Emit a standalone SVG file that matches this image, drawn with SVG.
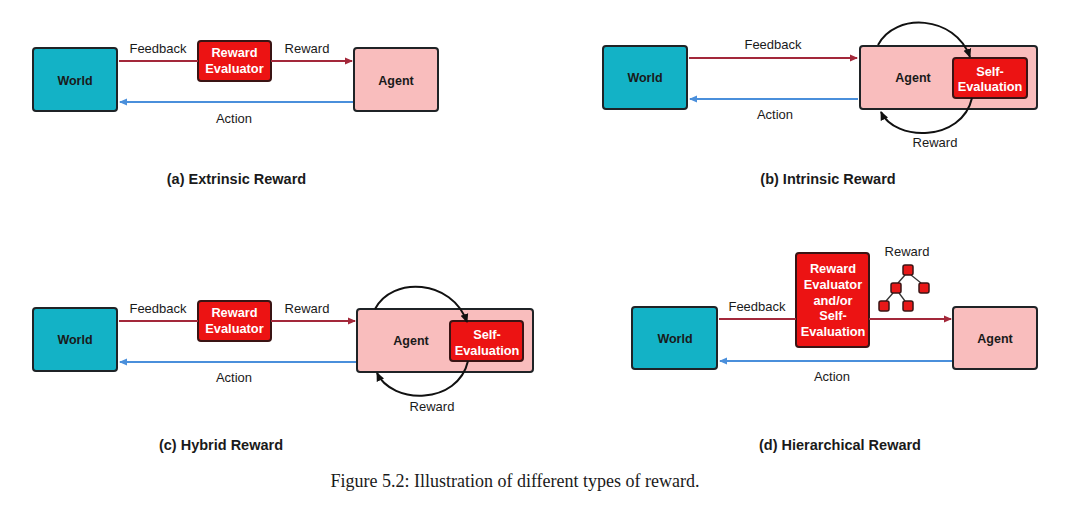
<svg xmlns="http://www.w3.org/2000/svg" width="1080" height="525" viewBox="0 0 1080 525">
<defs>
<marker id="arrRed" markerWidth="8" markerHeight="8" refX="7" refY="4" orient="auto" markerUnits="userSpaceOnUse"><path d="M0,0.5 L8,4 L0,7.5 Z" fill="#A3283A"/></marker>
<marker id="arrBlue" markerWidth="8" markerHeight="8" refX="7" refY="4" orient="auto" markerUnits="userSpaceOnUse"><path d="M0,0.5 L8,4 L0,7.5 Z" fill="#4A8FDB"/></marker>
<marker id="arrBlack" markerWidth="9" markerHeight="9" refX="8" refY="4.5" orient="auto" markerUnits="userSpaceOnUse"><path d="M0,0.5 L9,4.5 L0,8.5 Z" fill="#111"/></marker>
</defs>
<style>
.world{fill:#13B2C6;stroke:#1f2326;stroke-width:2}
.agent{fill:#F9BDBD;stroke:#1f2326;stroke-width:2}
.eval{fill:#EC1313;stroke:#3a1414;stroke-width:2}
.node{fill:#E81818;stroke:#3a1414;stroke-width:1.5}
.nt{font-family:"Liberation Sans",Arial,sans-serif;font-weight:bold;font-size:12.5px;fill:#1a1a1a;text-anchor:middle}
.wt{font-family:"Liberation Sans",Arial,sans-serif;font-weight:bold;font-size:12.8px;fill:#ffffff;text-anchor:middle}
.lbl{font-family:"Liberation Sans",Arial,sans-serif;font-size:13px;fill:#1a1a1a;text-anchor:middle}
.cap{font-family:"Liberation Sans",Arial,sans-serif;font-weight:bold;font-size:14.5px;fill:#1a1a1a;text-anchor:middle}
.fig{font-family:"Liberation Serif","Times New Roman",serif;font-size:18px;fill:#1a1a1a;text-anchor:middle}
.fb{fill:none;stroke:#A3283A;stroke-width:2}
.act{fill:none;stroke:#4A8FDB;stroke-width:2}
.loop{fill:none;stroke:#111;stroke-width:2}
.tl{stroke:#333;stroke-width:1.3}
</style>

<!-- Panel (a) -->
<g id="a-world"><rect class="world" x="33" y="48" width="84" height="63" rx="3"/><text class="nt" x="75" y="84.5">World</text></g>
<g id="a-evaluator"><rect class="eval" x="198" y="41" width="73" height="40" rx="3"/><text class="wt" x="234.5" y="57">Reward</text><text class="wt" x="234.5" y="73">Evaluator</text></g>
<g id="a-agent"><rect class="agent" x="354" y="48" width="84" height="63" rx="3"/><text class="nt" x="396" y="84.5">Agent</text></g>
<g id="a-connectors">
<path class="fb" d="M119,61 H198"/>
<path class="fb" d="M271,61 H352" marker-end="url(#arrRed)"/>
<path class="act" d="M353,102 H120" marker-end="url(#arrBlue)"/>
<text class="lbl" x="158" y="53">Feedback</text>
<text class="lbl" x="307" y="53">Reward</text>
<text class="lbl" x="234" y="123">Action</text>
</g>
<text class="cap" x="236.5" y="184">(a) Extrinsic Reward</text>

<!-- Panel (b) -->
<g id="b-world"><rect class="world" x="603" y="46" width="84" height="63" rx="3"/><text class="nt" x="645" y="82">World</text></g>
<g id="b-agent"><rect class="agent" x="860" y="46" width="177" height="63" rx="3"/><text class="nt" x="913" y="82">Agent</text></g>
<g id="b-self"><rect class="eval" x="953" y="58" width="74" height="40" rx="3"/><text class="wt" x="990" y="76">Self-</text><text class="wt" x="990" y="91">Evaluation</text></g>
<g id="b-connectors">
<path class="fb" d="M689,58 H857" marker-end="url(#arrRed)"/>
<path class="act" d="M858,99 H690" marker-end="url(#arrBlue)"/>
<path class="loop" d="M878,45 C895,12 955,15 970,57" marker-end="url(#arrBlack)"/>
<path class="loop" d="M972,98 C962,142 895,142 881,112" marker-end="url(#arrBlack)"/>
<text class="lbl" x="773" y="49">Feedback</text>
<text class="lbl" x="775" y="119">Action</text>
<text class="lbl" x="935" y="147">Reward</text>
</g>
<text class="cap" x="828" y="184">(b) Intrinsic Reward</text>

<!-- Panel (c) -->
<g id="c-world"><rect class="world" x="33" y="308" width="84" height="63" rx="3"/><text class="nt" x="75" y="344">World</text></g>
<g id="c-evaluator"><rect class="eval" x="198" y="301" width="73" height="40" rx="3"/><text class="wt" x="234.5" y="317">Reward</text><text class="wt" x="234.5" y="333">Evaluator</text></g>
<g id="c-agent"><rect class="agent" x="357" y="309" width="176" height="63" rx="3"/><text class="nt" x="411" y="345">Agent</text></g>
<g id="c-self"><rect class="eval" x="450" y="321" width="73" height="40" rx="3"/><text class="wt" x="487" y="339">Self-</text><text class="wt" x="487" y="355">Evaluation</text></g>
<g id="c-connectors">
<path class="fb" d="M119,321 H198"/>
<path class="fb" d="M271,321 H355" marker-end="url(#arrRed)"/>
<path class="act" d="M356,362 H120" marker-end="url(#arrBlue)"/>
<path class="loop" d="M375,309 C392,276 452,279 467,322" marker-end="url(#arrBlack)"/>
<path class="loop" d="M468,361 C458,405 392,405 377,373" marker-end="url(#arrBlack)"/>
<text class="lbl" x="158" y="313">Feedback</text>
<text class="lbl" x="307" y="313">Reward</text>
<text class="lbl" x="234" y="382">Action</text>
<text class="lbl" x="432" y="411">Reward</text>
</g>
<text class="cap" x="221" y="450">(c) Hybrid Reward</text>

<!-- Panel (d) -->
<g id="d-world"><rect class="world" x="632" y="307" width="85" height="62" rx="3"/><text class="nt" x="675" y="343">World</text></g>
<g id="d-evaluator"><rect class="eval" x="796" y="253" width="73" height="94" rx="3"/>
<text class="wt" x="833" y="273">Reward</text><text class="wt" x="833" y="289">Evaluator</text><text class="wt" x="833" y="305">and/or</text><text class="wt" x="833" y="320">Self-</text><text class="wt" x="833" y="336">Evaluation</text></g>
<g id="d-agent"><rect class="agent" x="953" y="307" width="84" height="62" rx="3"/><text class="nt" x="995" y="343">Agent</text></g>
<g id="d-tree">
<line class="tl" x1="905" y1="275" x2="898" y2="283"/>
<line class="tl" x1="911" y1="275" x2="921" y2="283"/>
<line class="tl" x1="893" y1="293" x2="886" y2="301"/>
<line class="tl" x1="899" y1="293" x2="905" y2="301"/>
<rect class="node" x="903" y="265" width="10" height="10" rx="2"/>
<rect class="node" x="891" y="283" width="10" height="10" rx="2"/>
<rect class="node" x="919" y="283" width="10" height="10" rx="2"/>
<rect class="node" x="879" y="301" width="10" height="10" rx="2"/>
<rect class="node" x="903" y="301" width="10" height="10" rx="2"/>
</g>
<g id="d-connectors">
<path class="fb" d="M719,319 H796"/>
<path class="fb" d="M869,319 H951" marker-end="url(#arrRed)"/>
<path class="act" d="M952,361 H720" marker-end="url(#arrBlue)"/>
<text class="lbl" x="757" y="311">Feedback</text>
<text class="lbl" x="832" y="381">Action</text>
<text class="lbl" x="907" y="256">Reward</text>
</g>
<text class="cap" x="840" y="450">(d) Hierarchical Reward</text>

<text class="fig" x="515" y="487">Figure 5.2: Illustration of different types of reward.</text>
</svg>
